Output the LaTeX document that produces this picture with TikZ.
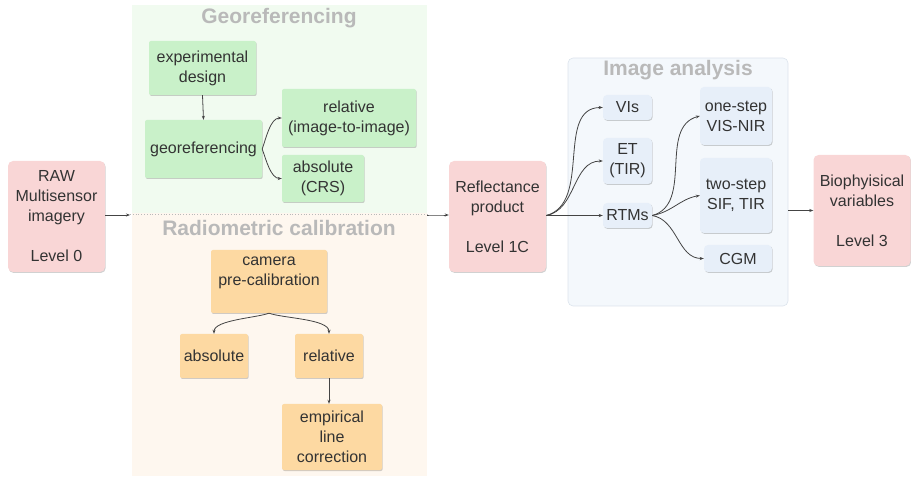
\documentclass[tikz,border=0pt]{standalone}
\usepackage{fontspec}
\setmainfont{Liberation Sans}
\usepackage{xcolor}
\usepackage{tikz}
\usetikzlibrary{calc, positioning, arrows.meta, shadows}
\definecolor{levelpink}{HTML}{F9D6D6}
\definecolor{geogreen}{HTML}{C9F1C9}
\definecolor{radorange}{HTML}{FDD9A2}
\definecolor{anablue}{HTML}{E7EFF9}
\definecolor{geobg}{HTML}{F1FBF0}
\definecolor{radbg}{HTML}{FEF7EF}
\definecolor{anabg}{HTML}{F4F8FC}
\definecolor{anaborder}{HTML}{DCE3EC}
\definecolor{txt}{HTML}{333333}
\definecolor{ttl}{HTML}{B9B9B9}
\definecolor{lnk}{HTML}{444444}
\tikzset{
    box/.style={rectangle, rounded corners=2pt, align=center, inner sep=1pt, text=txt,
        font=\fontsize{16}{20}\selectfont,
        drop shadow={shadow xshift=0.7pt, shadow yshift=-1pt, fill=black, opacity=0.18}},
    level/.style={box, fill=levelpink, rounded corners=5pt},
    geobox/.style={box, fill=geogreen},
    radbox/.style={box, fill=radorange},
    anabox/.style={box, fill=anablue, rounded corners=4pt},
    panel/.style={rectangle, inner sep=0pt},
    title/.style={font=\fontsize{21}{24}\selectfont\bfseries, text=ttl},
    arrow/.style={-{Stealth[length=4pt, width=3pt]}, lnk, line width=0.8pt},
    link/.style={lnk, line width=0.8pt}
}

\begin{document}
\begin{tikzpicture}[x=1pt, y=-1pt]
    \useasboundingbox (0,0) rectangle (911,478);

    % Panels
    \node[panel, fill=geobg, minimum width=295pt, minimum height=208pt] (geop) at (279.5,109) {};
    \node[panel, fill=radbg, minimum width=295pt, minimum height=263pt] (radp) at (279.5,344.5) {};
    \node[panel, fill=anabg, draw=anaborder, line width=0.6pt, rounded corners=5pt,
        minimum width=220pt, minimum height=248pt] (anap) at (678,182) {};
    \node[title] (geot) at (279,18) {Georeferencing};
    \node[title] (radt) at (279,228) {Radiometric calibration};
    \node[title] (anat) at (678,70) {Image analysis};

    % Levels
    \node[level, minimum width=97pt, minimum height=111pt] (raw) at (56.5,216.5) {RAW\\Multisensor\\imagery\\[20pt]Level 0};
    \node[level, minimum width=97pt, minimum height=111pt] (refl) at (497.5,216.5) {Reflectance\\product\\[20pt]Level 1C};
    \node[level, minimum width=97pt, minimum height=111pt] (bio) at (862,210.5) {Biophyisical\\variables\\[20pt]Level 3};

    % Georeferencing
    \node[geobox, minimum width=107pt, minimum height=54pt] (expd) at (202.5,68) {experimental\\design};
    \node[geobox, minimum width=117pt, minimum height=58pt] (geo) at (203.5,149) {georeferencing};
    \node[geobox, minimum width=134pt, minimum height=58pt] (grel) at (349,118) {relative\\(image-to-image)};
    \node[geobox, minimum width=82pt, minimum height=47pt] (gabs) at (323,178.5) {absolute\\(CRS)};

    % Radiometric calibration
    \node[radbox, minimum width=116pt, minimum height=63pt] (cam) at (269,281.5) {camera\\pre-calibration\\\mbox{}};
    \node[radbox, minimum width=68pt, minimum height=44pt] (rabs) at (214,356) {absolute};
    \node[radbox, minimum width=68pt, minimum height=44pt] (rrel) at (329,356) {relative};
    \node[radbox, minimum width=100pt, minimum height=66pt] (emp) at (332,437) {empirical\\line\\correction};

    % Image analysis
    \node[anabox, minimum width=49pt, minimum height=25pt] (vis) at (627.5,107.5) {VIs};
    \node[anabox, minimum width=49pt, minimum height=46pt] (et) at (627.5,161) {ET\\(TIR)};
    \node[anabox, minimum width=49pt, minimum height=25pt] (rtm) at (627.5,215.5) {RTMs};
    \node[anabox, minimum width=72pt, minimum height=58pt] (one) at (736,116) {one-step\\VIS-NIR};
    \node[anabox, minimum width=72pt, minimum height=75pt] (two) at (736,195.5) {two-step\\SIF, TIR};
    \node[anabox, minimum width=68pt, minimum height=27pt] (cgm) at (738,258.5) {CGM};

    % Main flow
    \coordinate (dl) at (130,215);
    \coordinate (dr) at (427,215);
    \draw[arrow] (raw.east |- dl) -- (dl);
    \draw[link, dotted, line width=1pt, ttl] (dl) -- (dr);
    \draw[arrow] (dr) to[out=0, in=180] (refl.west |- dr);
    \draw[arrow] (anap.east |- bio.west) -- (bio.west);

    % Georeferencing links
    \draw[arrow] (expd.south) -- (geo.north);
    \draw[arrow] (geo.east) to[out=70, in=180, looseness=0.8] (grel.west);
    \draw[arrow] (geo.east) to[out=-70, in=180, looseness=0.8] (gabs.west);

    % Radiometric links
    \draw[arrow] (cam.south) to[out=200, in=90, looseness=0.6] (rabs.north);
    \draw[arrow] (cam.south) to[out=-20, in=90, looseness=0.6] (rrel.north);
    \draw[arrow] (rrel.south) -- (emp.north -| rrel.south);

    % Image analysis links
    \draw[arrow] (refl.east |- rtm.west) to[out=15, in=180] (vis.west);
    \draw[arrow] (refl.east |- rtm.west) to[out=10, in=180] (et.west);
    \draw[arrow] (refl.east |- rtm.west) -- (rtm.west);
    \draw[arrow] (rtm.east) to[out=15, in=195] (one.west);
    \draw[arrow] (rtm.east) to[out=10, in=190] (two.west);
    \draw[arrow] (rtm.east) to[out=-10, in=180] (cgm.west);
\end{tikzpicture}
\end{document}
